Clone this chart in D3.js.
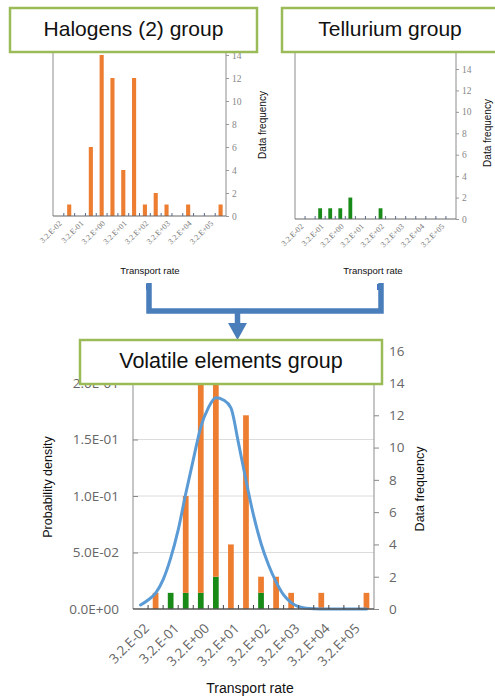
<!DOCTYPE html>
<html>
<head>
<meta charset="utf-8">
<script src="https://cdn.jsdelivr.net/npm/d3@7"></script>
<style>
body { margin: 0; background: #fff; }
svg { display: block; }
text { font-family: "Liberation Sans", Arial, sans-serif; }
</style>
</head>
<body>
<svg id="chart" width="495" height="697"></svg>
<script>
/*
Data - transport rate bins (half a decade each), label on every other bin
*/
const bins = [0, 1, 2, 3, 4, 5, 6, 7, 8, 9, 10, 11, 12, 13, 14, 15];
const labelBins = [0, 2, 4, 6, 8, 10, 12, 14];
const rateLabels = ["3.2.E-02", "3.2.E-01", "3.2.E+00", "3.2.E+01", "3.2.E+02", "3.2.E+03", "3.2.E+04", "3.2.E+05"];

const halogens = [0, 1, 0, 6, 14, 12, 4, 12, 1, 2, 1, 0, 1, 0, 0, 1];
const tellurium = [0, 0, 1, 1, 1, 2, 0, 0, 1, 0, 0, 0, 0, 0, 0, 0];

const freqTicksTop = [0, 2, 4, 6, 8, 10, 12, 14];
const freqTicksBottom = [0, 2, 4, 6, 8, 10, 12, 14, 16];
const densityTicks = [0, 0.05, 0.1, 0.15, 0.2];
const densityLabels = ["0.0E+00", "5.0E-02", "1.0E-01", "1.5E-01", "2.0E-01"];

// probability density curve at half-bin steps
const curveBins = [0, 0.5, 1, 1.5, 2, 2.5, 3, 3.5, 4, 4.5, 5, 5.5, 6, 6.5, 7, 7.5, 8, 8.5, 9, 9.5, 10, 10.5, 11, 12, 13, 14, 15];
const curveDensity = [0.0035, 0.008, 0.014, 0.026, 0.045, 0.070, 0.102, 0.132, 0.161, 0.178, 0.187, 0.185, 0.178, 0.147, 0.114, 0.083, 0.058, 0.039, 0.024, 0.0124, 0.0056, 0.002, 0.0007, 0, 0, 0, 0];

const ORANGE = "#ED7D31", GREEN = "#178A17", BLUE = "#5B9BD5", ARROW = "#4A7EBB", BOXGREEN = "#9BBB59";

const svg = d3.select("#chart");

/* Small histogram of one group (top row) */
function smallChart(cfg) {
    const g = svg.append("g");
    const x = d3.scaleBand().domain(bins).range([cfg.left, cfg.right])
        .paddingInner(0.62).paddingOuter(0.31);
    const xb = d3.scaleLinear().domain([0, 16]).range([cfg.left, cfg.right]);
    const y = d3.scaleLinear().domain([0, 14]).range([cfg.bottom, cfg.y14]);

    // bars
    g.selectAll(".bar").data(bins).enter().append("rect")
        .attr("x", function (d) { return x(d); })
        .attr("y", function (d) { return y(cfg.values[d]); })
        .attr("width", x.bandwidth())
        .attr("height", function (d) { return cfg.bottom - y(cfg.values[d]); })
        .attr("fill", cfg.color);

    // frame lines
    g.append("line").attr("x1", cfg.left).attr("x2", cfg.left).attr("y1", cfg.top).attr("y2", cfg.bottom)
        .attr("stroke", "#8c8c8c");
    g.append("line").attr("x1", cfg.right).attr("x2", cfg.right).attr("y1", cfg.top).attr("y2", cfg.bottom)
        .attr("stroke", "#8c8c8c");
    g.append("line").attr("x1", cfg.left).attr("x2", cfg.right).attr("y1", cfg.bottom).attr("y2", cfg.bottom)
        .attr("stroke", "#666");

    // minor ticks at bin edges
    g.selectAll(".mt").data(d3.range(1, 16)).enter().append("line")
        .attr("x1", function (d) { return xb(d); }).attr("x2", function (d) { return xb(d); })
        .attr("y1", cfg.bottom).attr("y2", cfg.bottom - 3)
        .attr("stroke", "#5a6a8a");

    // right frequency axis
    const ax = g.append("g").attr("transform", "translate(" + cfg.right + ",0)")
        .call(d3.axisRight(y).tickValues(freqTicksTop).tickSize(3).tickPadding(3));
    ax.select(".domain").remove();
    ax.selectAll("line").attr("stroke", "#999");
    ax.selectAll("text").attr("fill", "#888").style("font-size", "9.5px")
        .style("font-family", "'Liberation Serif', serif");

    // rate labels
    g.selectAll(".xl").data(labelBins).enter().append("text")
        .attr("transform", function (d, i) {
            return "translate(" + (x(d) + x.bandwidth() / 2 + 2) + "," + (cfg.bottom + 6) + ") rotate(-45)";
        })
        .attr("text-anchor", "end").attr("dy", "0.35em")
        .attr("fill", "#777").style("font-size", "8px")
        .style("font-family", "'Liberation Serif', serif")
        .text(function (d, i) { return rateLabels[i]; });

    g.append("text").attr("x", cfg.xTitleX).attr("y", 274).attr("text-anchor", "middle")
        .style("font-size", "9.5px").attr("fill", "#111").text("Transport rate");
    g.append("rect").attr("x", cfg.squareX).attr("y", 284).attr("width", 5).attr("height", 6)
        .attr("fill", "#4472C4");

    g.append("text").attr("transform", "translate(" + cfg.yTitleX + "," + cfg.yTitleY + ") rotate(-90)")
        .attr("text-anchor", "middle").style("font-size", "10px").attr("fill", "#111")
        .text("Data frequency");
}

smallChart({ left: 53, right: 226, top: 50, bottom: 216, y14: 55, values: halogens, color: ORANGE,
    xTitleX: 150, squareX: 146, yTitleX: 266, yTitleY: 125 });
smallChart({ left: 295, right: 456, top: 50, bottom: 219, y14: 69, values: tellurium, color: GREEN,
    xTitleX: 373, squareX: 377, yTitleX: 491, yTitleY: 133 });

/* Combined volatile elements chart (bottom) */
const B = { left: 133, right: 374, top: 351, bottom: 609, y02: 383 };
const gb = svg.append("g");
const xB = d3.scaleBand().domain(bins).range([B.left, B.right]).paddingInner(0.62).paddingOuter(0.31);
const xBe = d3.scaleLinear().domain([0, 16]).range([B.left, B.right]);
const xBc = d3.scaleLinear().domain([-0.5, 15.5]).range([B.left, B.right]);
const yD = d3.scaleLinear().domain([0, 0.2]).range([B.bottom, B.y02]);
const yF = d3.scaleLinear().domain([0, 14]).range([B.bottom, B.y02]);

// grid lines
gb.selectAll(".grid").data(densityTicks.slice(1)).enter().append("line")
    .attr("x1", B.left).attr("x2", B.right)
    .attr("y1", function (d) { return yD(d); }).attr("y2", function (d) { return yD(d); })
    .attr("stroke", "#dcdcdc");

// stacked bars: tellurium below, halogens on top
const table = bins.map(function (b) { return { bin: b, tellurium: tellurium[b], halogens: halogens[b] }; });
const stacked = d3.stack().keys(["tellurium", "halogens"])(table);
const stackColors = { tellurium: GREEN, halogens: ORANGE };
stacked.forEach(function (layer) {
    gb.selectAll(".bar-" + layer.key).data(layer).enter().append("rect")
        .attr("x", function (d) { return xB(d.data.bin); })
        .attr("y", function (d) { return yF(d[1]); })
        .attr("width", xB.bandwidth())
        .attr("height", function (d) { return yF(d[0]) - yF(d[1]); })
        .attr("fill", stackColors[layer.key]);
});

// density curve
const line = d3.line()
    .x(function (d, i) { return xBc(curveBins[i]); })
    .y(function (d) { return yD(d); })
    .curve(d3.curveMonotoneX);
gb.append("path").datum(curveDensity).attr("d", line)
    .attr("fill", "none").attr("stroke", BLUE).attr("stroke-width", 3).attr("stroke-linecap", "round");

// axes lines
gb.append("line").attr("x1", B.left).attr("x2", B.left).attr("y1", B.top).attr("y2", B.bottom).attr("stroke", "#8c8c8c");
gb.append("line").attr("x1", B.right).attr("x2", B.right).attr("y1", B.top).attr("y2", B.bottom).attr("stroke", "#8c8c8c");
gb.append("line").attr("x1", B.left).attr("x2", B.right).attr("y1", B.bottom).attr("y2", B.bottom)
    .attr("stroke", "#555").attr("stroke-width", 1.5);

gb.selectAll(".mt").data(d3.range(1, 16)).enter().append("line")
    .attr("x1", function (d) { return xBe(d); }).attr("x2", function (d) { return xBe(d); })
    .attr("y1", B.bottom).attr("y2", B.bottom - 4)
    .attr("stroke", "#444");

// left density axis
const axL = gb.append("g").attr("transform", "translate(" + B.left + ",0)")
    .call(d3.axisLeft(yD).tickValues(densityTicks).tickSize(-5).tickPadding(14)
        .tickFormat(function (d, i) { return densityLabels[i]; }));
axL.select(".domain").remove();
axL.selectAll("line").attr("stroke", "#888");
axL.selectAll("text").attr("fill", "#666").style("font-size", "13.5px")
    .style("font-family", "'Open Sans', sans-serif");

// right frequency axis
const axR = gb.append("g").attr("transform", "translate(" + B.right + ",0)")
    .call(d3.axisRight(yF).tickValues(freqTicksBottom).tickSize(5).tickPadding(10));
axR.select(".domain").remove();
axR.selectAll("line").attr("stroke", "#888");
axR.selectAll("text").attr("fill", "#666").style("font-size", "13.5px")
    .style("font-family", "'Open Sans', sans-serif");

// rate labels
gb.selectAll(".xl").data(labelBins).enter().append("text")
    .attr("transform", function (d) {
        return "translate(" + (xB(d) + xB.bandwidth() / 2 + 6) + "," + (B.bottom + 17) + ") rotate(-45)";
    })
    .attr("text-anchor", "end").attr("dy", "0.35em")
    .attr("fill", "#666").style("font-size", "13.5px")
    .style("font-family", "'Open Sans', sans-serif")
    .text(function (d, i) { return rateLabels[i]; });

gb.append("text").attr("x", 250).attr("y", 693).attr("text-anchor", "middle")
    .style("font-size", "14px").attr("fill", "#111").text("Transport rate");
gb.append("text").attr("transform", "translate(52,487) rotate(-90)").attr("text-anchor", "middle")
    .style("font-size", "12.5px").attr("fill", "#111").text("Probability density");
gb.append("text").attr("transform", "translate(424,489) rotate(-90)").attr("text-anchor", "middle")
    .style("font-size", "12.5px").attr("fill", "#111").text("Data frequency");

/* Arrows joining the groups */
svg.append("path").attr("d", "M149,283 V311 H381 V283")
    .attr("fill", "none").attr("stroke", ARROW).attr("stroke-width", 5.5).attr("stroke-linejoin", "miter");
svg.append("path").attr("d", "M237.5,311 V325")
    .attr("stroke", ARROW).attr("stroke-width", 5.5);
svg.append("path").attr("d", "M228,323 L247,323 L237.5,340 Z").attr("fill", ARROW);

/* Title boxes */
const titles = [
    { text: "Halogens (2) group", x: 10, y: 8, w: 247, h: 44 },
    { text: "Tellurium group", x: 282, y: 8, w: 220, h: 44 },
    { text: "Volatile elements group", x: 80, y: 340, w: 302, h: 44 }
];
titles.forEach(function (t) {
    svg.append("rect").attr("x", t.x).attr("y", t.y).attr("width", t.w).attr("height", t.h)
        .attr("fill", "#fff").attr("stroke", BOXGREEN).attr("stroke-width", 2.5);
});
svg.append("text").attr("x", 133.5).attr("y", 36).attr("text-anchor", "middle")
    .style("font-size", "21px").attr("fill", "#111").text(titles[0].text);
svg.append("text").attr("x", 390).attr("y", 36).attr("text-anchor", "middle")
    .style("font-size", "21px").attr("fill", "#111").text(titles[1].text);
svg.append("text").attr("x", 231).attr("y", 368).attr("text-anchor", "middle")
    .style("font-size", "21.5px").attr("fill", "#111").text(titles[2].text);
</script>
</body>
</html>
